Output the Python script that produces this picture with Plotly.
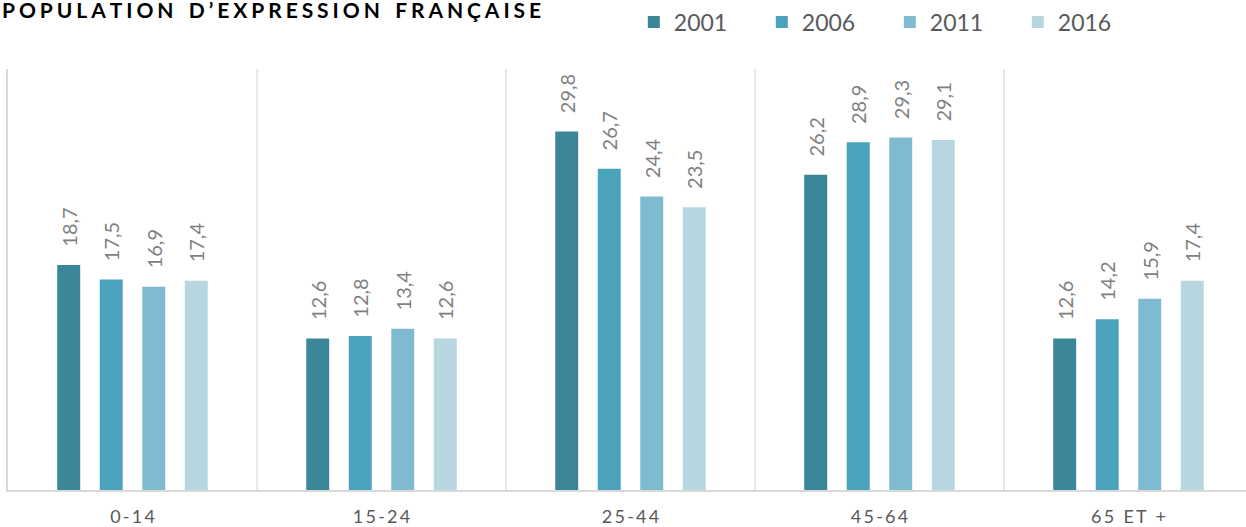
import plotly.graph_objects as go

categories = ["0-14", "15-24", "25-44", "45-64", "65 ET +"]
years = ["2001", "2006", "2011", "2016"]
v2001 = [18.7, 12.6, 29.8, 26.2, 12.6]
v2006 = [17.5, 12.8, 26.7, 28.9, 14.2]
v2011 = [16.9, 13.4, 24.4, 29.3, 15.9]
v2016 = [17.4, 12.6, 23.5, 29.1, 17.4]
series = [v2001, v2006, v2011, v2016]
colors = ["#3b8699", "#4aa3ba", "#7fbbd0", "#b6d6e0"]
title_text = "POPULATION D’EXPRESSION FRANÇAISE"

def spaced(s, gap="\u2009", word="\u00a0\u00a0\u00a0"):
    words = s.split(" ")
    return word.join(gap.join(list(w)) for w in words)

tick_labels = [spaced(c, "\u200a\u200a", "\u00a0\u00a0") for c in categories]

W, H = 1246, 527
ML, MR, MT, MB = 8, 0, 69, 37
PW, PH = W - ML - MR, H - MT - MB

fig = go.Figure()
for name, vals, col in zip(years, series, colors):
    fig.add_trace(go.Bar(
        x=categories, y=vals, name=name,
        marker=dict(color=col, line=dict(width=0)),
        texttemplate="\u00a0\u00a0\u00a0%{y:.1f}",
        textposition="outside", textangle=-90, constraintext="none",
        cliponaxis=False,
        textfont=dict(family="Lato", size=20, color="#7f7f7f"),
        hoverinfo="skip",
    ))

fig.add_annotation(
    text="<b>" + spaced(title_text, "\u2009\u200a", "\u00a0\u00a0\u00a0") + "</b>",
    xref="paper", x=-ML / PW, xanchor="left",
    yref="paper", y=1 + (MT - 10) / PH, yanchor="middle",
    showarrow=False, font=dict(family="Lato", size=21, color="#000000"),
)

fig.update_layout(
    width=W, height=H,
    margin=dict(l=ML, r=MR, t=MT, b=MB, autoexpand=False),
    paper_bgcolor="white", plot_bgcolor="white",
    separators=", ",
    barmode="group", bargap=0.317, bargroupgap=0.46,
    showlegend=True,
    legend=dict(orientation="h", x=0.5055, xanchor="left", y=1 + (MT - 22) / PH, yanchor="middle",
                font=dict(family="Lato", size=23, color="#595959"),
                entrywidth=83, entrywidthmode="pixels", traceorder="normal",
                bgcolor="rgba(0,0,0,0)"),
    xaxis=dict(type="category", range=[-0.5, 4.472], automargin=False,
               tickvals=categories, ticktext=tick_labels,
               tickson="boundaries", showgrid=True, gridcolor="#e8e8e8", gridwidth=1.5,
               showline=True, linecolor="#d9d9d9", linewidth=2,
               ticks="", ticklabelstandoff=9,
               tickfont=dict(family="Lato", size=18, color="#595959"),
               zeroline=False, fixedrange=True),
    yaxis=dict(range=[0, 35], showgrid=False, zeroline=False, automargin=False,
               showticklabels=False, showline=True, linecolor="#d9d9d9", linewidth=2,
               ticks="", fixedrange=True),
)

fig.write_html("out.html", config={"displayModeBar": False},
               post_script="document.body.style.margin='0';document.body.style.overflow='hidden';")
